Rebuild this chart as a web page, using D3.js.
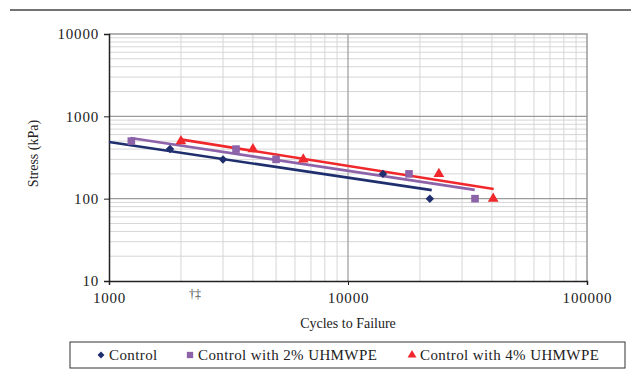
<!DOCTYPE html>
<html>
<head>
<meta charset="utf-8">
<script src="https://cdn.jsdelivr.net/npm/d3@7"></script>
<style>
  body { margin: 0; background: #fff; }
</style>
</head>
<body>
<div id="chart"></div>
<script>
// data
const seriesNames = ['Control', 'Control with 2% UHMWPE', 'Control with 4% UHMWPE'];
const seriesColors = ['#1f2f6e', '#8c62a8', '#f0282c'];
const controlCycles = [1800, 3000, 14000, 22000];
const controlStress = [400, 300, 200, 100];
const uh2Cycles = [1240, 3400, 5000, 18000, 34000];
const uh2Stress = [500, 400, 300, 200, 100];
const uh4Cycles = [2000, 4000, 6500, 24000, 40500];
const uh4Stress = [500, 400, 300, 200, 100];
// power trendlines, start/end points
const controlTrend = [[1000, 487], [22400, 127]];
const uh2Trend = [[1230, 545], [33900, 128]];
const uh4Trend = [[1990, 525], [40700, 131]];
const xTicks = [1000, 10000, 100000];
const yTicks = [10, 100, 1000, 10000];

const FONT = '"Liberation Serif", "Times New Roman", serif';
const W = 631, H = 385;
const margin = { top: 34, right: 44, bottom: 104, left: 109 };
const width = W - margin.left - margin.right;
const height = H - margin.top - margin.bottom;

const svg = d3.select('#chart').append('svg')
  .attr('width', W)
  .attr('height', H)
  .style('font-family', FONT);

// rule across the top
svg.append('line')
  .attr('x1', 10).attr('x2', W).attr('y1', 10).attr('y2', 10)
  .attr('stroke', '#444').attr('stroke-width', 1.5);

const g = svg.append('g')
  .attr('transform', `translate(${margin.left},${margin.top})`);

const x = d3.scaleLog().domain([1000, 100000]).range([0, width]);
const y = d3.scaleLog().domain([10, 10000]).range([height, 0]);

// minor grid
const minorX = [];
const minorY = [];
for (let d = 1000; d < 100000; d *= 10) {
  for (let k = 2; k <= 9; k++) minorX.push(d * k);
}
for (let d = 10; d < 10000; d *= 10) {
  for (let k = 2; k <= 9; k++) minorY.push(d * k);
}

g.selectAll('.minor-x').data(minorX).enter().append('line')
  .attr('class', 'minor-x')
  .attr('x1', d => x(d)).attr('x2', d => x(d))
  .attr('y1', 0).attr('y2', height)
  .attr('stroke', '#d6d6d6').attr('stroke-width', 1);

g.selectAll('.minor-y').data(minorY).enter().append('line')
  .attr('class', 'minor-y')
  .attr('y1', d => y(d)).attr('y2', d => y(d))
  .attr('x1', 0).attr('x2', width)
  .attr('stroke', '#d6d6d6').attr('stroke-width', 1);

// major grid
g.selectAll('.major-x').data(xTicks.slice(1, -1)).enter().append('line')
  .attr('x1', d => x(d)).attr('x2', d => x(d))
  .attr('y1', 0).attr('y2', height)
  .attr('stroke', '#9a9a9a').attr('stroke-width', 1.2);

g.selectAll('.major-y').data(yTicks.slice(1, -1)).enter().append('line')
  .attr('y1', d => y(d)).attr('y2', d => y(d))
  .attr('x1', 0).attr('x2', width)
  .attr('stroke', '#9a9a9a').attr('stroke-width', 1.2);

// plot border (top / right)
g.append('path')
  .attr('d', `M0,0H${width}V${height}`)
  .attr('fill', 'none').attr('stroke', '#999').attr('stroke-width', 1.5);

// axes
const xAxis = d3.axisBottom(x).tickValues(xTicks).tickFormat(d3.format('d')).tickSize(4);
const yAxis = d3.axisLeft(y).tickValues(yTicks).tickFormat(d3.format('d')).tickSize(5);

const xg = g.append('g').attr('transform', `translate(0,${height})`).call(xAxis);
const yg = g.append('g').call(yAxis);

[xg, yg].forEach(a => {
  a.attr('font-family', FONT);
  a.select('.domain').attr('stroke', '#222').attr('stroke-width', 1.5);
  a.selectAll('.tick line').attr('stroke', '#222');
  a.selectAll('.tick text')
    .style('font-family', FONT)
    .style('font-size', '15px')
    .style('letter-spacing', '0.8px')
    .attr('fill', '#222');
});
xg.selectAll('.tick text').attr('dy', '1.0em');
yg.selectAll('.tick text').attr('x', -10);

// axis titles
g.append('text')
  .attr('x', x(10000)).attr('y', height + 47)
  .attr('text-anchor', 'middle')
  .style('font-size', '14px').attr('fill', '#222')
  .text('Cycles to Failure');

g.append('text')
  .attr('transform', `translate(${-71},${height / 2 - 4}) rotate(-90)`)
  .attr('text-anchor', 'middle')
  .style('font-size', '14px').attr('fill', '#222')
  .text('Stress (kPa)');

// small stray mark under the axis
g.append('text')
  .attr('x', x(2290)).attr('y', height + 17)
  .attr('text-anchor', 'middle')
  .style('font-size', '12px').attr('fill', '#444')
  .text('†‡');

// trendlines
const trends = [controlTrend, uh2Trend, uh4Trend];
const line = d3.line().x(d => x(d[0])).y(d => y(d[1]));
trends.forEach((t, i) => {
  g.append('path')
    .datum(t)
    .attr('d', line)
    .attr('fill', 'none')
    .attr('stroke', seriesColors[i])
    .attr('stroke-width', 2.6);
});

// markers (diamond = square turned 45 degrees)
const symbols = [d3.symbolSquare, d3.symbolSquare, d3.symbolTriangle];
const rotations = [45, 0, 0];
const sizes = [36, 58, 50];
const seriesData = [
  d3.zip(controlCycles, controlStress),
  d3.zip(uh2Cycles, uh2Stress),
  d3.zip(uh4Cycles, uh4Stress)
];
seriesData.forEach((pts, i) => {
  g.selectAll('.pt' + i).data(pts).enter().append('path')
    .attr('class', 'pt' + i)
    .attr('transform', d => `translate(${x(d[0])},${y(d[1])}) rotate(${rotations[i]})`)
    .attr('d', d3.symbol().type(symbols[i]).size(sizes[i]))
    .attr('fill', seriesColors[i]);
});

// legend
const legend = svg.append('g').attr('transform', 'translate(70,342)');
legend.append('rect')
  .attr('width', 555).attr('height', 26)
  .attr('fill', '#fff').attr('stroke', '#333').attr('stroke-width', 1);

const legendX = [31, 120, 342];
const legendSizes = [24, 40, 34];
seriesNames.forEach((name, i) => {
  const item = legend.append('g').attr('transform', `translate(${legendX[i]},13)`);
  item.append('path')
    .attr('transform', `rotate(${rotations[i]})`)
    .attr('d', d3.symbol().type(symbols[i]).size(legendSizes[i]))
    .attr('fill', seriesColors[i]);
  item.append('text')
    .attr('x', 8).attr('y', 5)
    .style('font-size', '15px')
    .style('letter-spacing', '0.4px')
    .attr('fill', '#222')
    .text(name);
});
</script>
</body>
</html>
